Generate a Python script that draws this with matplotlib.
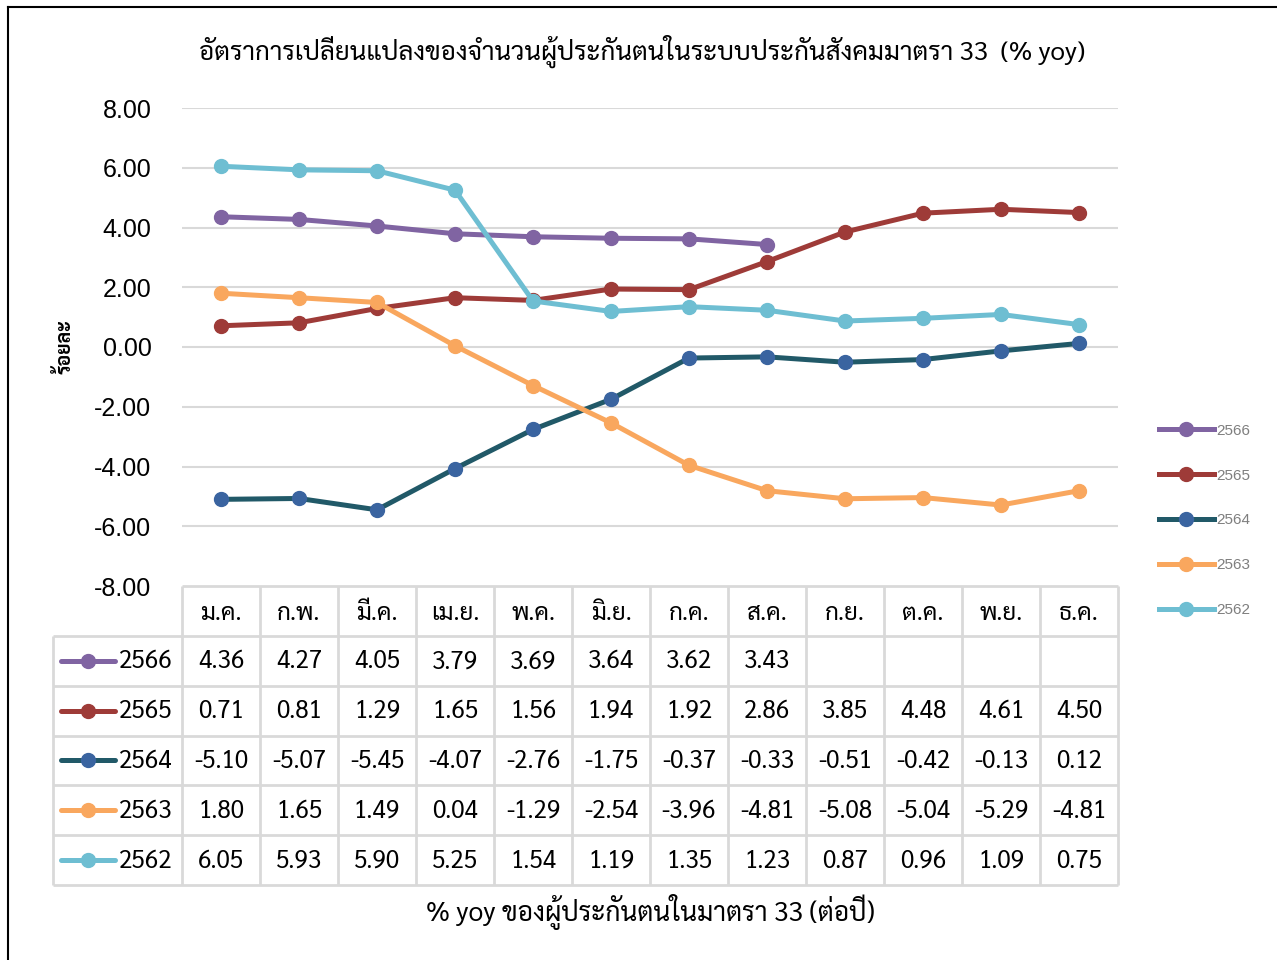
import matplotlib
matplotlib.use("Agg")
import matplotlib.pyplot as plt
from matplotlib.lines import Line2D
import numpy as np

THAI = ["Sarabun", "DejaVu Sans"]
LATIN = ["Liberation Sans", "DejaVu Sans"]

months = ["ม.ค.", "ก.พ.", "มี.ค.", "เม.ย.", "พ.ค.", "มิ.ย.",
          "ก.ค.", "ส.ค.", "ก.ย.", "ต.ค.", "พ.ย.", "ธ.ค."]
years = ["2566", "2565", "2564", "2563", "2562"]

y2566 = [4.36, 4.27, 4.05, 3.79, 3.69, 3.64, 3.62, 3.43]
y2565 = [0.71, 0.81, 1.29, 1.65, 1.56, 1.94, 1.92, 2.86, 3.85, 4.48, 4.61, 4.50]
y2564 = [-5.10, -5.07, -5.45, -4.07, -2.76, -1.75, -0.37, -0.33, -0.51, -0.42, -0.13, 0.12]
y2563 = [1.80, 1.65, 1.49, 0.04, -1.29, -2.54, -3.96, -4.81, -5.08, -5.04, -5.29, -4.81]
y2562 = [6.05, 5.93, 5.90, 5.25, 1.54, 1.19, 1.35, 1.23, 0.87, 0.96, 1.09, 0.75]

series = [y2566, y2565, y2564, y2563, y2562]
line_colors = ["#8064A2", "#9E3B38", "#215968", "#F9A75E", "#6EBED2"]
marker_colors = ["#8064A2", "#9E3B38", "#3A64A0", "#F9A75E", "#6EBED2"]

W, H = 1277, 960
fig = plt.figure(figsize=(W / 100, H / 100), dpi=100)

def fx(px):
    return px / W

def fy(py):
    return 1 - py / H

grid_c = "#D9D9D9"

# ---- chart area
ax = fig.add_axes([fx(182), fy(586), fx(1118) - fx(182), fy(108) - fy(586)])
ax.set_xlim(-0.5, 11.5)
ax.set_ylim(-8, 8)
ax.set_yticks(np.arange(-8, 8.1, 2))
ax.set_yticklabels(["%.2f" % v for v in np.arange(-8, 8.1, 2)], family=LATIN, fontsize=18)
ax.set_xticks([])
ax.tick_params(axis="y", length=0, pad=22)
for s in ax.spines.values():
    s.set_visible(False)
for v in np.arange(-6, 8.1, 2):
    ax.axhline(v, color=grid_c, lw=1.5, zorder=0)

handles = []
for name, vals, lc, mc in zip(years, series, line_colors, marker_colors):
    x = np.arange(len(vals))
    h, = ax.plot(x, vals, color=lc, lw=3.6, marker="o", ms=10,
                 markerfacecolor=mc, markeredgecolor=mc, label=name, clip_on=False)
    handles.append(h)

ax.set_ylabel("ร้อยละ", family=THAI, fontsize=14, fontweight="bold", labelpad=14)

leg = fig.legend(handles=handles, loc="upper left", bbox_to_anchor=(fx(1145), fy(410)),
                 frameon=False, handlelength=3.6, handletextpad=0.15, labelspacing=2.02,
                 prop={"family": LATIN, "size": 11})
for t in leg.get_texts():
    t.set_color("#7F7F7F")

ax.set_title("อัตราการเปลี่ยนแปลงของจำนวนผู้ประกันตนในระบบประกันสังคมมาตรา 33  (% yoy)",
             family=THAI, fontsize=18.7, pad=35, x=0.491)

# ---- data table
left_px = 53
tx0 = -0.5 - (182 - left_px) / 78.0
tab = fig.add_axes([fx(left_px), fy(885), fx(1118) - fx(left_px), fy(586) - fy(885)])
tab.set_xlim(tx0, 11.5)
tab.set_ylim(6, 0)
tab.axis("off")

lkw = dict(color=grid_c, lw=2, solid_capstyle="butt", clip_on=False)
tab.plot([-0.5, 11.5], [0, 0], **lkw)
for r in range(1, 7):
    tab.plot([tx0, 11.5], [r, r], **lkw)
tab.plot([tx0, tx0], [1, 6], **lkw)
for c in range(13):
    tab.plot([c - 0.5, c - 0.5], [0, 6], **lkw)

for i, m in enumerate(months):
    tab.text(i, 0.55, m, ha="center", va="center", family=THAI, fontsize=17.5)

for r, (name, vals, lc, mc) in enumerate(zip(years, series, line_colors, marker_colors)):
    yy = r + 1.5
    tab.plot([tx0 + 0.1, tx0 + 0.8], [yy, yy], color=lc, lw=3.6, solid_capstyle="round")
    tab.plot([tx0 + 0.45], [yy], "o", ms=10, color=mc)
    tab.text(tx0 + 0.84, yy + 0.02, name, ha="left", va="center", family=THAI, fontsize=17.5)
    for i, v in enumerate(vals):
        tab.text(i, yy + 0.02, "%.2f" % v, ha="center", va="center", family=THAI, fontsize=17.5)

fig.text(fx(650), fy(912), "% yoy ของผู้ประกันตนในมาตรา 33 (ต่อปี)", ha="center", va="center",
         family=THAI, fontsize=19)

# outer border of the chart object
fig.add_artist(Line2D([fx(8), 1], [fy(7), fy(7)], color="black", lw=1.5))
fig.add_artist(Line2D([fx(8), fx(8)], [0, fy(7)], color="black", lw=1.5))

fig.savefig("out.png", dpi=100)
